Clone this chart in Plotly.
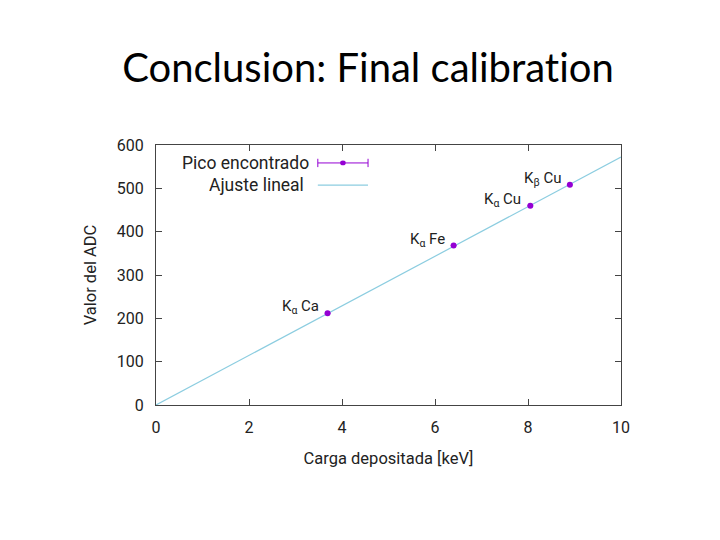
import plotly.graph_objects as go

# peaks found (energy in keV vs ADC value)
peak_labels = ["K<sub>α</sub> Ca", "K<sub>α</sub> Fe", "K<sub>α</sub> Cu", "K<sub>β</sub> Cu"]
peak_energy = [3.69, 6.40, 8.05, 8.90]
peak_adc = [212, 368, 460, 508]
peak_err = [0.06, 0.06, 0.06, 0.06]

# linear fit
fit_x = [0, 10]
fit_y = [0, 572]

PURPLE = "#9400D3"
BLUE = "#8ccde0"
FONT = "Roboto"
TXT = "#222"

fig = go.Figure()
fig.add_scatter(x=fit_x, y=fit_y, mode="lines", line=dict(color=BLUE, width=1.2),
                showlegend=False)
fig.add_scatter(x=peak_energy, y=peak_adc, mode="markers",
                marker=dict(color=PURPLE, size=6),
                error_x=dict(type="data", array=peak_err, color=PURPLE, thickness=1, width=0),
                showlegend=False)

for lab, xv, yv in zip(peak_labels, peak_energy, peak_adc):
    fig.add_annotation(x=xv, y=yv, text=lab, showarrow=False, xanchor="right",
                       yanchor="middle", xshift=-7, yshift=6,
                       font=dict(family=FONT, size=15, color=TXT))

# gnuplot-style legend: text on the left, sample on the right
fig.add_annotation(xref="paper", yref="paper", x=0.333, y=0.931, text="Pico encontrado",
                   showarrow=False, xanchor="right", yanchor="middle",
                   font=dict(family=FONT, size=17.5, color=TXT))
fig.add_annotation(xref="paper", yref="paper", x=0.323, y=0.846, text="Ajuste lineal",
                   showarrow=False, xanchor="right", yanchor="middle",
                   font=dict(family=FONT, size=17.5, color=TXT))
fig.add_shape(type="line", xref="paper", yref="paper", x0=0.348, x1=0.456, y0=0.931, y1=0.931,
              line=dict(color=PURPLE, width=1))
for xp in (0.348, 0.456):
    fig.add_shape(type="line", xref="paper", yref="paper", x0=xp, x1=xp, y0=0.915, y1=0.947,
                  line=dict(color=PURPLE, width=1))
fig.add_shape(type="circle", xref="paper", yref="paper", x0=0.396, x1=0.408, y0=0.922, y1=0.940,
              fillcolor=PURPLE, line=dict(color=PURPLE, width=0))
fig.add_shape(type="line", xref="paper", yref="paper", x0=0.348, x1=0.456, y0=0.846, y1=0.846,
              line=dict(color=BLUE, width=1.2))

axis_style = dict(showgrid=False, zeroline=False, showline=True, linecolor="#444", linewidth=1,
                  mirror="ticks", ticks="inside", ticklen=6, tickcolor="#444",
                  ticklabelstandoff=8,
                  tickfont=dict(family=FONT, size=16, color=TXT))
fig.update_xaxes(range=[0, 10], dtick=2, **axis_style,
                 title=dict(text="Carga depositada [keV]", font=dict(family=FONT, size=16.5, color=TXT),
                            standoff=16))
fig.update_yaxes(range=[0, 600], dtick=100, **axis_style,
                 title=dict(text="Valor del ADC", font=dict(family=FONT, size=16.5, color=TXT),
                            standoff=16))

# page body adds an 8px offset, so margins are shifted to compensate
fig.update_layout(
    width=720, height=540,
    margin=dict(l=148, r=107, t=137, b=143),
    paper_bgcolor="white", plot_bgcolor="white",
    title=dict(text="Conclusion: Final calibrat\u200cion", x=0.5, xanchor="center",
               y=1 - 60 / 540, yanchor="middle",
               font=dict(family="Lato", size=40, color="black")),
)

fig.write_html("out.html")
